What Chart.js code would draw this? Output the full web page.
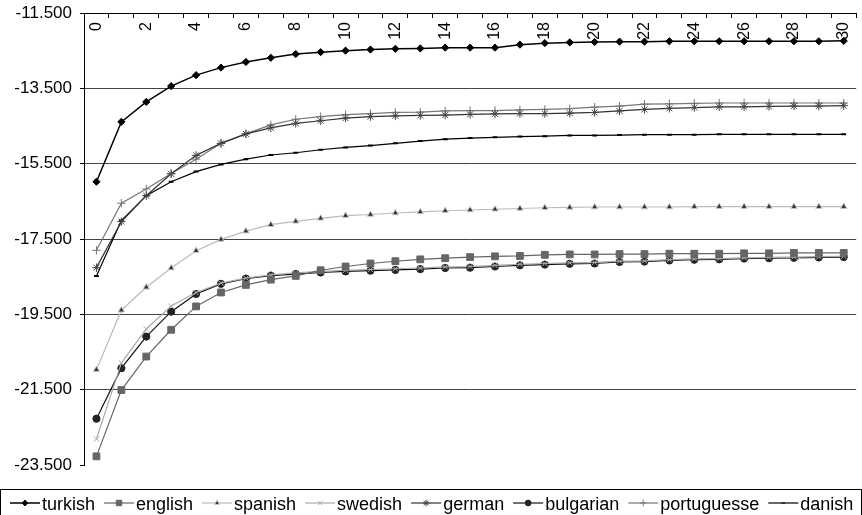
<!DOCTYPE html>
<html>
<head>
<meta charset="utf-8">
<script src="https://cdn.jsdelivr.net/npm/chart.js@4.4.1/dist/chart.umd.min.js"></script>
<style>
  html, body { margin: 0; padding: 0; background: #fff; }
  #c { display: block; }
</style>
</head>
<body>
<canvas id="c" width="862" height="515"></canvas>
<script>
/* ---------- dados ---------- */
const xLabels = ['0','1','2','3','4','5','6','7','8','9','10','11','12','13','14','15',
                 '16','17','18','19','20','21','22','23','24','25','26','27','28','29','30'];
const yTicks = [-23.5, -21.5, -19.5, -17.5, -15.5, -13.5, -11.5];

const turkish = [-15.98,-14.39,-13.86,-13.44,-13.15,-12.95,-12.80,-12.69,-12.59,-12.54,-12.50,
                 -12.47,-12.45,-12.44,-12.42,-12.42,-12.42,-12.34,-12.30,-12.28,-12.27,-12.26,
                 -12.26,-12.25,-12.25,-12.25,-12.25,-12.25,-12.25,-12.25,-12.24];
const english = [-23.27,-21.51,-20.62,-19.91,-19.29,-18.92,-18.72,-18.58,-18.48,-18.33,-18.23,
                 -18.15,-18.09,-18.04,-18.01,-17.98,-17.96,-17.95,-17.92,-17.91,-17.91,-17.90,
                 -17.90,-17.89,-17.89,-17.89,-17.88,-17.88,-17.87,-17.87,-17.87];
const spanish = [-20.97,-19.39,-18.78,-18.27,-17.81,-17.51,-17.29,-17.12,-17.03,-16.95,-16.88,
                 -16.85,-16.81,-16.78,-16.75,-16.73,-16.71,-16.69,-16.67,-16.66,-16.65,-16.65,
                 -16.65,-16.65,-16.64,-16.64,-16.64,-16.64,-16.64,-16.64,-16.64];
const swedish = [-22.81,-20.79,-19.89,-19.28,-18.92,-18.67,-18.54,-18.45,-18.40,-18.36,-18.33,
                 -18.31,-18.29,-18.27,-18.24,-18.23,-18.20,-18.17,-18.15,-18.13,-18.12,-18.09,
                 -18.08,-18.05,-18.03,-18.02,-18.00,-17.99,-17.98,-17.97,-17.96];
const german = [-18.26,-17.04,-16.35,-15.77,-15.28,-14.96,-14.71,-14.55,-14.43,-14.36,-14.29,
                -14.25,-14.23,-14.22,-14.21,-14.19,-14.18,-14.17,-14.17,-14.16,-14.14,-14.10,
                -14.06,-14.03,-14.01,-13.99,-13.99,-13.98,-13.97,-13.97,-13.96];
const bulgarian = [-22.27,-20.93,-20.09,-19.43,-18.96,-18.69,-18.55,-18.47,-18.43,-18.39,-18.36,
                   -18.34,-18.32,-18.30,-18.27,-18.26,-18.23,-18.20,-18.18,-18.16,-18.15,-18.11,
                   -18.10,-18.07,-18.05,-18.04,-18.02,-18.01,-18.00,-17.99,-17.98];
const portuguesse = [-17.80,-16.55,-16.17,-15.76,-15.38,-14.96,-14.71,-14.47,-14.32,-14.25,-14.20,
                     -14.17,-14.14,-14.13,-14.10,-14.09,-14.09,-14.07,-14.06,-14.04,-14.00,-13.97,
                     -13.92,-13.91,-13.90,-13.89,-13.89,-13.89,-13.89,-13.89,-13.89];
const danish = [-18.48,-17.01,-16.35,-15.98,-15.71,-15.52,-15.38,-15.27,-15.21,-15.13,-15.07,
                -15.02,-14.96,-14.90,-14.85,-14.82,-14.80,-14.78,-14.77,-14.75,-14.75,-14.74,
                -14.73,-14.73,-14.73,-14.72,-14.72,-14.72,-14.72,-14.72,-14.72];

const FONTE = '"Liberation Sans", Arial, sans-serif';

function serie(label, data, cor, estilo, raio, extra) {
  return Object.assign({
    label, data,
    borderColor: cor, borderWidth: 1.2,
    pointStyle: estilo, pointRadius: raio, pointHoverRadius: raio,
    pointBackgroundColor: cor, pointBorderColor: cor, pointBorderWidth: 1,
    tension: 0, fill: false
  }, extra || {});
}

/* ---------- legenda em caixa, com linha + marcador ---------- */
const legendaCaixa = {
  id: 'legendaCaixa',
  afterDraw(chart) {
    const ctx = chart.ctx;
    ctx.save();
    ctx.strokeStyle = '#000';
    ctx.lineWidth = 1;
    ctx.strokeRect(0.5, 489.5, 861, 40);
    ctx.font = '18px ' + FONTE;
    ctx.textBaseline = 'alphabetic';
    let x = 10;
    const y = 503;
    chart.data.datasets.forEach(ds => {
      ctx.strokeStyle = ds.borderColor;
      ctx.lineWidth = ds.borderWidth;
      ctx.beginPath();
      ctx.moveTo(x, y);
      ctx.lineTo(x + 30, y);
      ctx.stroke();
      ctx.fillStyle = ds.pointBackgroundColor;
      ctx.strokeStyle = ds.pointBorderColor;
      ctx.lineWidth = 1;
      Chart.helpers.drawPoint(ctx, { pointStyle: ds.pointStyle, radius: ds.pointRadius * 0.8, borderWidth: 1, rotation: 0 }, x + 15, y);
      ctx.fillStyle = '#000';
      ctx.fillText(ds.label, x + 32, y + 7);
      x += 32 + ctx.measureText(ds.label).width + 9;
    });
    ctx.restore();
  }
};

new Chart(document.getElementById('c'), {
  type: 'line',
  data: {
    labels: xLabels,
    datasets: [
      serie('turkish', turkish, '#000', 'rectRot', 3.6, { borderWidth: 1.5 }),
      serie('english', english, '#666', 'rect', 4.8),
      serie('spanish', spanish, '#bbb', 'triangle', 3.6, { pointBackgroundColor: '#333', pointBorderColor: '#c8c8c8' }),
      serie('swedish', swedish, '#aaa', 'crossRot', 3.8),
      serie('german', german, '#333', 'star', 4.2, { pointBorderColor: '#444' }),
      serie('bulgarian', bulgarian, '#111', 'circle', 3.6, { pointBackgroundColor: '#222', pointBorderColor: '#222' }),
      serie('portuguesse', portuguesse, '#777', 'cross', 4.2),
      serie('danish', danish, '#000', 'line', 2.4, { pointBorderWidth: 2 })
    ]
  },
  options: {
    responsive: false,
    animation: false,
    events: [],
    layout: { padding: { top: 13, left: 0, right: 0, bottom: 50 } },
    plugins: { legend: { display: false }, tooltip: { enabled: false } },
    scales: {
      x: {
        type: 'category',
        position: { y: -11.5 },
        offset: true,
        grid: { offset: true, drawOnChartArea: false, drawTicks: true, tickLength: 4, tickColor: '#000' },
        border: { display: true, color: '#000', width: 1 },
        ticks: {
          autoSkip: false, minRotation: 90, maxRotation: 90, padding: 5,
          color: '#000', font: { family: FONTE, size: 16 },
          callback: (v, i) => (i % 2 ? '' : xLabels[i])
        },
        afterFit: s => { s.paddingLeft = 0; s.paddingRight = 0; }
      },
      y: {
        min: yTicks[0], max: yTicks[yTicks.length - 1],
        afterBuildTicks: s => { s.ticks = yTicks.map(v => ({ value: v })); },
        ticks: {
          color: '#000', padding: 8, font: { family: FONTE, size: 17 },
          callback: v => Number(v).toFixed(3)
        },
        grid: {
          color: c => (c.tick && c.tick.value === yTicks[0] ? 'rgba(0,0,0,0)' : '#444'),
          tickColor: '#000', tickLength: 4, lineWidth: 1
        },
        border: { color: '#000', width: 1 },
        afterFit: s => { s.width = 84; s.paddingTop = 0; s.paddingBottom = 0; }
      }
    }
  },
  plugins: [legendaCaixa]
});
</script>
</body>
</html>
